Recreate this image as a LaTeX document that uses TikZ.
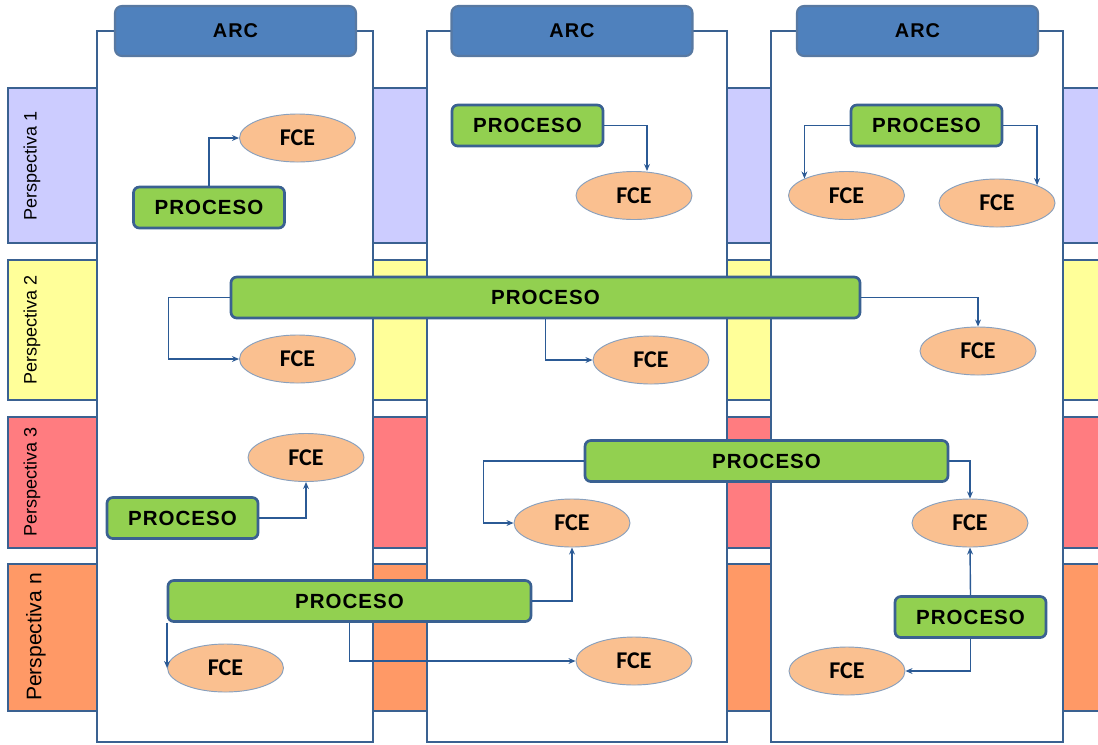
\documentclass[tikz,border=0pt]{standalone}
\usepackage{fontspec}
\setmainfont{Liberation Sans}
\newfontfamily\capsfont[LetterSpace=5]{Liberation Sans}
\newfontfamily\fcefont{Carlito}
\usetikzlibrary{arrows.meta,shapes.geometric}
\definecolor{edge}{HTML}{3A6191}
\definecolor{arcblue}{HTML}{4F81BD}
\definecolor{procgreen}{HTML}{92D050}
\definecolor{fceorange}{HTML}{FAC090}
\definecolor{perspA}{HTML}{CCCCFF}
\definecolor{perspB}{HTML}{FFFF99}
\definecolor{perspC}{HTML}{FF7C80}
\definecolor{perspN}{HTML}{FF9966}
\definecolor{flowblue}{HTML}{2B5A95}
\begin{document}
\begin{tikzpicture}[x=0.03cm,y=-0.03cm,
  band/.style={draw=edge,line width=2.4pt},
  column/.style={draw=edge,fill=white,line width=2.4pt},
  arc/.style={rectangle,draw=edge!85!white,fill=arcblue,line width=1.8pt,rounded corners=6pt,
    minimum width=7.23cm,minimum height=1.5cm,font=\capsfont\bfseries\fontsize{17}{19}\selectfont},
  proc/.style={rectangle,draw=edge,fill=procgreen,line width=2.3pt,rounded corners=5pt,
    minimum width=4.53cm,minimum height=1.23cm,font=\capsfont\bfseries\fontsize{17.5}{19}\selectfont},
  fce/.style={ellipse,draw=edge!60,fill=fceorange,line width=0.8pt,inner sep=0pt,
    minimum width=3.48cm,minimum height=1.44cm,font=\fcefont\bfseries\fontsize{20.5}{22}\selectfont},
  persp/.style={rotate=90,font=\fontsize{15.4}{17}\selectfont},
  flow/.style={draw=flowblue,line width=1.2pt,-{Stealth[length=6pt,width=5pt]}}]
\useasboundingbox (0,0) rectangle (1098,744);
\clip (0,0) rectangle (1098,744);

\draw[band,fill=perspA] (8,88) rectangle (1110,243);
\draw[band,fill=perspB] (8,260) rectangle (1110,400);
\draw[band,fill=perspC] (8,417) rectangle (1110,548);
\draw[band,fill=perspN] (8,564) rectangle (1110,711);
\node[persp] (lab1) at (32,166) {Perspectiva 1};
\node[persp] (lab2) at (32,330) {Perspectiva 2};
\node[persp] (lab3) at (32,482) {Perspectiva 3};
\node[persp,font=\fontsize{18}{20}\selectfont] (labn) at (36,637) {Perspectiva n};

\draw[column] (97,31) rectangle (373,742);
\draw[column] (427,31) rectangle (727,742);
\draw[column] (771,31) rectangle (1063,742);
\node[arc] (arc1) at (235.5,31) {ARC};
\node[arc] (arc2) at (572,31) {ARC};
\node[arc] (arc3) at (917.5,31) {ARC};

\node[fce] (f11) at (297.5,138) {FCE};
\node[proc] (p11) at (209,207.5) {PROCESO};
\node[proc] (p12) at (527.5,125.5) {PROCESO};
\node[fce] (f12) at (634,195.5) {FCE};
\node[proc] (p13) at (926.5,125.5) {PROCESO};
\node[fce] (f13a) at (846.5,195.5) {FCE};
\node[fce] (f13b) at (997,203) {FCE};

\node[proc,minimum width=18.87cm] (p2) at (545.5,297.5) {PROCESO};
\node[fce] (f21) at (297.5,359) {FCE};
\node[fce] (f22) at (651,360) {FCE};
\node[fce] (f23) at (978,351) {FCE};

\node[fce] (f31) at (306,457.5) {FCE};
\node[proc] (p31) at (182.5,518) {PROCESO};
\node[proc,minimum width=10.89cm] (p32) at (766.5,461) {PROCESO};
\node[fce] (f32) at (572,523) {FCE};
\node[fce] (f33) at (970,523) {FCE};

\node[proc,minimum width=10.89cm] (pn1) at (349.5,601) {PROCESO};
\node[fce] (fn1) at (225.5,668) {FCE};
\node[fce] (fn2) at (634,661) {FCE};
\node[proc] (pn3) at (970.5,617) {PROCESO};
\node[fce] (fn3) at (847,671) {FCE};

\draw[flow] (p11.north) |- (f11.west);
\draw[flow] (p12.east) -| ([xshift=0.39cm]f12.north);
\draw[flow] (p13.west) -| (f13a.158);
\draw[flow] (p13.east) -| (f13b.24);
\draw[flow] (p2.west) -- ++(-61,0) |- (f21.west);
\draw[flow] (p2.south) |- (f22.west);
\draw[flow] (p2.east) -| (f23.north);
\draw[flow] (p31.east) -| (f31.south);
\draw[flow] (p32.west) -- ++(-100,0) |- (f32.west);
\draw[flow] (p32.east) -| (f33.north);
\draw[flow] (pn3.north) -- (f33.south);
\draw[flow] (pn3.south) |- (fn3.east);
\draw[flow] (pn1.east) -| (f32.south);
\draw[flow] (fn1.west |- pn1.south) -- (fn1.west);
\draw[flow] (pn1.south) |- (fn2.west);
\end{tikzpicture}
\end{document}
